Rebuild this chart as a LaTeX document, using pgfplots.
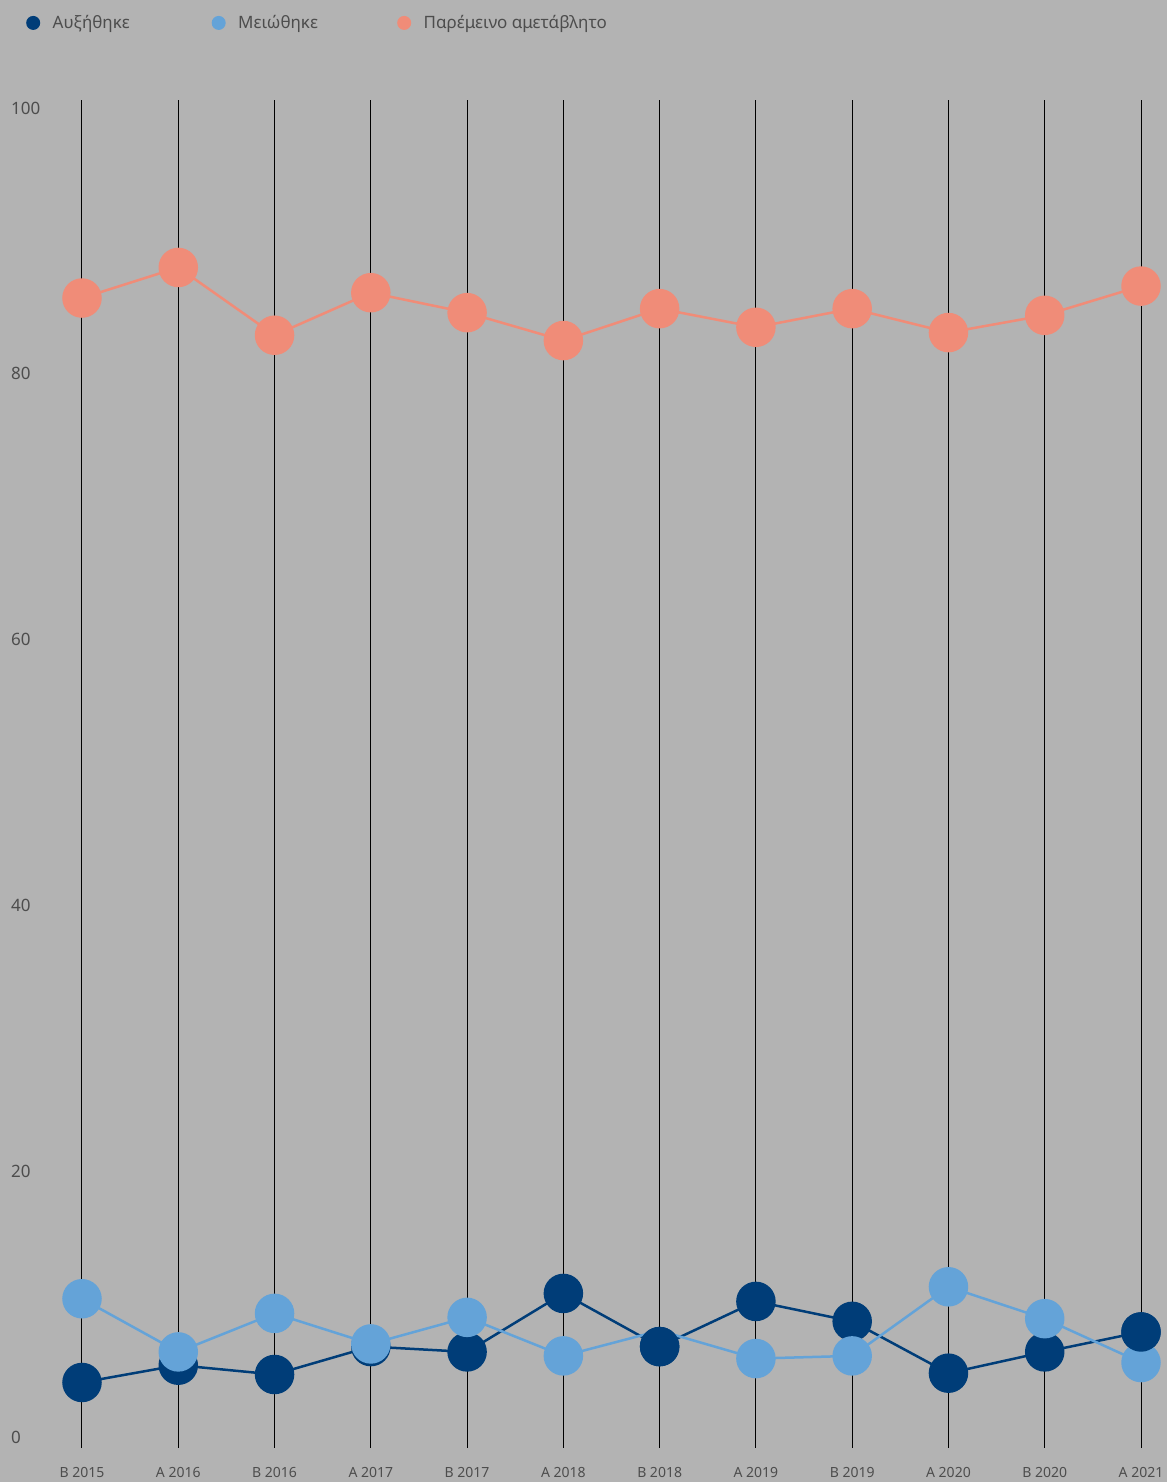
\documentclass[border=0pt]{standalone}
\usepackage{pgfplots}
\pgfplotsset{compat=1.18}
\usepackage{fontspec}
\setmainfont{Noto Sans}
\definecolor{bg}{HTML}{B3B3B3}
\definecolor{dkb}{HTML}{003D78}
\definecolor{ltb}{HTML}{64A3D8}
\definecolor{sal}{HTML}{F08C78}
\definecolor{txt}{HTML}{4D4D4D}
\begin{document}
\begin{tikzpicture}
\path[use as bounding box, fill=bg] (0,0) rectangle (1167pt,1482pt);
\begin{axis}[
  at={(82pt,34.4pt)}, anchor=south west, scale only axis,
  width=1059pt, height=1347.6pt,
  xmin=0, xmax=11, ymin=-0.8, ymax=100.6, clip=false,
  axis lines=left, axis line style={draw=none, -}, major tick length=0pt,
  xtick={0,...,11},
  xticklabels={B 2015, A 2016, B 2016, A 2017, B 2017, A 2018, B 2018, A 2019, B 2019, A 2020, B 2020, A 2021},
  ytick={0,20,...,100},
  /pgf/number format/assume math mode=true,
  xmajorgrids, grid style={black, line width=1pt},
  yticklabel style={anchor=west, xshift=-71pt, inner sep=0pt, font=\fontsize{17}{20}\selectfont, text=txt},
  xticklabel style={anchor=center, yshift=-24.4pt, inner sep=0pt, font=\fontsize{14}{16}\selectfont, text=txt},
  legend columns=3,
  legend style={at={(axis description cs:-0.05288,1.0572)}, anchor=west, draw=none, fill=none, inner sep=0pt,
    font=\fontsize{17}{20}\selectfont, text=txt,
    nodes={inner sep=0pt},
    /tikz/every odd column/.append style={column sep=12.5pt},
    /tikz/every even column/.append style={column sep=9pt}},
  legend image code/.code={\fill[#1, draw=none] (7pt,0pt) circle (7pt);},
  every axis plot/.append style={line width=2.5pt, mark=*, mark size=18.5pt, mark options={draw=none}},
]
\addplot[color=dkb] coordinates {(0,4.1) (1,5.4) (2,4.7) (3,6.8) (4,6.4) (5,10.8) (6,6.8) (7,10.2) (8,8.7) (9,4.8) (10,6.4) (11,7.9)};
\addlegendentry{\makebox[150pt][l]{Αυξήθηκε}}
\addplot[color=ltb, mark=none] coordinates {(0,10.4) (1,6.4) (2,9.3) (3,7.0) (4,9.0) (5,6.1) (6,8.0) (7,5.9) (8,6.1) (9,11.3) (10,8.9) (11,5.6)};
\addlegendentry{\makebox[150pt][l]{Μειώθηκε}}
\addplot[color=sal] coordinates {(0,85.7) (1,88.0) (2,82.9) (3,86.1) (4,84.6) (5,82.5) (6,84.9) (7,83.5) (8,84.9) (9,83.1) (10,84.4) (11,86.6)};
\addlegendentry{Παρέμεινο αμετάβλητο}
\addplot[color=ltb, only marks, forget plot] coordinates {(0,10.4) (1,6.4) (2,9.3) (3,7.0) (4,9.0) (5,6.1) (7,5.9) (8,6.1) (9,11.3) (10,8.9) (11,5.6)};
\addplot[color=dkb, only marks, forget plot] coordinates {(6,6.8) (11,7.9)};
\end{axis}
\end{tikzpicture}
\end{document}
